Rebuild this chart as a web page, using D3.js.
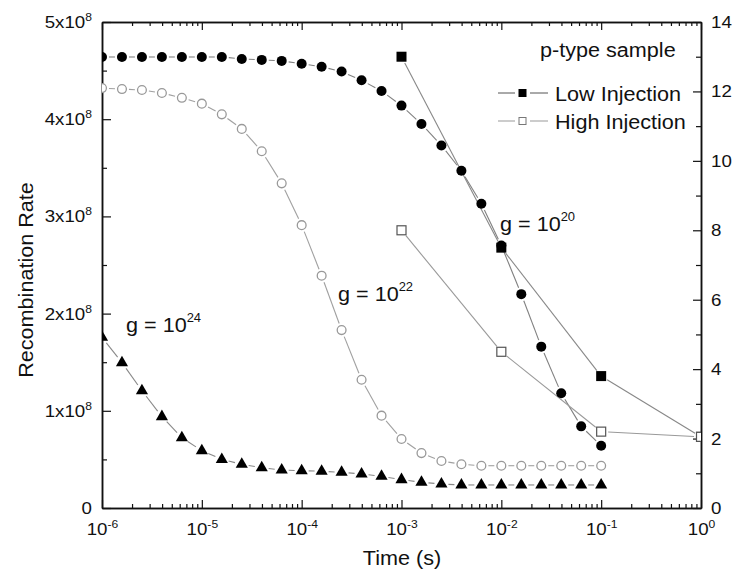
<!DOCTYPE html>
<html>
<head>
<meta charset="utf-8">
<script src="https://cdn.jsdelivr.net/npm/d3@7"></script>
<style>
  body { margin: 0; background: #fff; }
  svg text { font-family: "Liberation Sans", Arial, sans-serif; fill: #111; }
</style>
</head>
<body>
<svg width="732" height="578"></svg>
<script>
// time points (log10 of seconds) shared by the three g-series
const logTime = [-6, -5.8, -5.6, -5.4, -5.2, -5, -4.8, -4.6, -4.4, -4.2, -4, -3.8, -3.6,
                 -3.4, -3.2, -3, -2.8, -2.6, -2.4, -2.2, -2, -1.8, -1.6, -1.4, -1.2, -1];

// recombination rate, units of 1e8
const rateG20 = [4.64, 4.64, 4.64, 4.64, 4.64, 4.64, 4.64, 4.62, 4.61, 4.60, 4.57, 4.54, 4.49,
                 4.40, 4.29, 4.14, 3.95, 3.73, 3.47, 3.13, 2.70, 2.20, 1.66, 1.18, 0.84, 0.64];
const rateG22 = [4.32, 4.31, 4.30, 4.27, 4.22, 4.16, 4.05, 3.90, 3.67, 3.34, 2.91, 2.39, 1.83,
                 1.32, 0.95, 0.71, 0.565, 0.483, 0.45, 0.435, 0.435, 0.435, 0.435, 0.435, 0.435, 0.435];
const rateG24 = [1.756, 1.495, 1.207, 0.94, 0.723, 0.59, 0.50, 0.45, 0.415, 0.391, 0.384, 0.378, 0.367,
                 0.35, 0.326, 0.292, 0.264, 0.247, 0.237, 0.237, 0.237, 0.237, 0.237, 0.237, 0.237, 0.237];

// right axis series
const injTime = [1e-3, 1e-2, 1e-1, 1];
const lowInjection = [13.0, 7.5, 3.8, 2.05];
const highInjection = [8.0, 4.5, 2.2, 2.05];

const xTicks = [1e-6, 1e-5, 1e-4, 1e-3, 1e-2, 1e-1, 1];
const yTicks = [0, 1, 2, 3, 4, 5];
const y2Ticks = [0, 2, 4, 6, 8, 10, 12, 14];

const LEFT = 102, RIGHT = 701, TOP = 22, BOTTOM = 508;
const GAP = 7;

var svg = d3.select("svg");

var x = d3.scaleLog().domain([1e-6, 1]).range([LEFT, RIGHT]);
var y = d3.scaleLinear().domain([0, 5]).range([BOTTOM, TOP]);
var y2 = d3.scaleLinear().domain([0, 14]).range([BOTTOM, TOP]);

var minorX = [];
xTicks.slice(0, -1).forEach(function(d) {
  for (var k = 2; k < 10; k++) minorX.push(d * k);
});

svg.append("clipPath").attr("id", "plot")
  .append("rect").attr("x", LEFT).attr("y", TOP)
  .attr("width", RIGHT - LEFT).attr("height", BOTTOM - TOP);

// axes
function addSup(text, base, exp, dy) {
  text.text(null);
  text.append("tspan").text(base);
  text.append("tspan").attr("font-size", "11px").attr("dy", dy).text(exp);
}

var gx = svg.append("g").attr("transform", "translate(0," + BOTTOM + ")")
  .call(d3.axisBottom(x).tickValues(xTicks).tickSizeInner(-8).tickSizeOuter(0).tickPadding(15));
gx.selectAll(".tick text").each(function(d) {
  addSup(d3.select(this), "10", String(Math.round(Math.log10(d))), -7);
});
svg.append("g").attr("transform", "translate(0," + BOTTOM + ")")
  .call(d3.axisBottom(x).tickValues(minorX).tickSizeInner(-4).tickSizeOuter(0).tickFormat(""));

svg.append("g").attr("transform", "translate(0," + TOP + ")")
  .call(d3.axisTop(x).tickValues(xTicks).tickSizeInner(-8).tickSizeOuter(0).tickFormat(""));
svg.append("g").attr("transform", "translate(0," + TOP + ")")
  .call(d3.axisTop(x).tickValues(minorX).tickSizeInner(-4).tickSizeOuter(0).tickFormat(""));

var gy = svg.append("g").attr("transform", "translate(" + LEFT + ",0)")
  .call(d3.axisLeft(y).tickValues(yTicks).tickSizeInner(-9).tickSizeOuter(0).tickPadding(10)
    .tickFormat(function(d) { return d === 0 ? "0" : d + "x10"; }));
gy.selectAll(".tick text").each(function(d) {
  if (d > 0) addSup(d3.select(this), d + "x10", "8", -7);
});
svg.append("g").attr("transform", "translate(" + LEFT + ",0)")
  .call(d3.axisLeft(y).tickValues([0.5, 1.5, 2.5, 3.5, 4.5]).tickSizeInner(-5).tickSizeOuter(0).tickFormat(""));

svg.append("g").attr("transform", "translate(" + RIGHT + ",0)")
  .call(d3.axisRight(y2).tickValues(y2Ticks).tickSizeInner(-8).tickSizeOuter(0).tickPadding(10));
svg.append("g").attr("transform", "translate(" + RIGHT + ",0)")
  .call(d3.axisRight(y2).tickValues([1, 3, 5, 7, 9, 11, 13]).tickSizeInner(-5).tickSizeOuter(0).tickFormat(""));

svg.selectAll(".domain").attr("stroke", "#111").attr("stroke-width", 1.5);
svg.selectAll(".tick line").attr("stroke", "#111").attr("stroke-width", 1.2);
svg.selectAll(".tick text").attr("font-size", "17px").attr("fill", "#111")
  .attr("font-family", "'Liberation Sans', Arial, sans-serif");

// lines with a gap at each symbol
function segments(pts, gap) {
  return d3.pairs(pts).map(function(p) {
    var a = p[0], b = p[1];
    var dx = b[0] - a[0], dy = b[1] - a[1], len = Math.hypot(dx, dy);
    if (len <= 2 * gap) return null;
    var ux = dx / len, uy = dy / len;
    return [a[0] + ux * gap, a[1] + uy * gap, b[0] - ux * gap, b[1] - uy * gap];
  }).filter(Boolean);
}

var plot = svg.append("g").attr("clip-path", "url(#plot)");

function drawLine(pts, color, gap) {
  plot.append("g").selectAll("line")
    .data(segments(pts, gap))
    .enter().append("line")
      .attr("x1", function(d) { return d[0]; })
      .attr("y1", function(d) { return d[1]; })
      .attr("x2", function(d) { return d[2]; })
      .attr("y2", function(d) { return d[3]; })
      .attr("stroke", color)
      .attr("stroke-width", 1.1);
}

var ptsG20 = logTime.map(function(e, i) { return [x(Math.pow(10, e)), y(rateG20[i])]; });
var ptsG22 = logTime.map(function(e, i) { return [x(Math.pow(10, e)), y(rateG22[i])]; });
var ptsG24 = logTime.map(function(e, i) { return [x(Math.pow(10, e)), y(rateG24[i])]; });
var ptsLow = injTime.map(function(t, i) { return [x(t), y2(lowInjection[i])]; });
var ptsHigh = injTime.map(function(t, i) { return [x(t), y2(highInjection[i])]; });

drawLine(ptsG20, "#808080", GAP);
drawLine(ptsG22, "#a0a0a0", GAP);
drawLine(ptsG24, "#888888", GAP);
drawLine(ptsLow, "#888888", GAP);
drawLine(ptsHigh, "#999999", GAP);

plot.append("g").selectAll("circle")
  .data(ptsG20)
  .enter().append("circle")
    .attr("cx", function(d) { return d[0]; })
    .attr("cy", function(d) { return d[1]; })
    .attr("r", 5)
    .attr("fill", "#000");

plot.append("g").selectAll("circle")
  .data(ptsG22)
  .enter().append("circle")
    .attr("cx", function(d) { return d[0]; })
    .attr("cy", function(d) { return d[1]; })
    .attr("r", 4.4)
    .attr("fill", "#fff")
    .attr("stroke", "#999")
    .attr("stroke-width", 1.3);

plot.append("g").selectAll("path")
  .data(ptsG24)
  .enter().append("path")
    .attr("d", d3.symbol(d3.symbolTriangle, 64))
    .attr("transform", function(d) { return "translate(" + d[0] + "," + d[1] + ")"; })
    .attr("fill", "#000");

plot.append("g").selectAll("rect")
  .data(ptsLow)
  .enter().append("rect")
    .attr("x", function(d) { return d[0] - 5; })
    .attr("y", function(d) { return d[1] - 5; })
    .attr("width", 10).attr("height", 10)
    .attr("fill", "#000");

plot.append("g").selectAll("rect")
  .data(ptsHigh)
  .enter().append("rect")
    .attr("x", function(d) { return d[0] - 4.5; })
    .attr("y", function(d) { return d[1] - 4.5; })
    .attr("width", 9).attr("height", 9)
    .attr("fill", "#fff")
    .attr("stroke", "#555")
    .attr("stroke-width", 1.2);

// legend
var legend = svg.append("g");
legend.append("text").attr("x", 540).attr("y", 57).attr("font-size", "20px").text("p-type sample");

[["Low Injection", 93, "#555", "#000", "#000"], ["High Injection", 121, "#999", "#fff", "#777"]]
  .forEach(function(r) {
    legend.append("line").attr("x1", 498).attr("x2", 515).attr("y1", r[1]).attr("y2", r[1]).attr("stroke", r[2]);
    legend.append("line").attr("x1", 530).attr("x2", 548).attr("y1", r[1]).attr("y2", r[1]).attr("stroke", r[2]);
    legend.append("rect").attr("x", 519).attr("y", r[1] - 3.5).attr("width", 7).attr("height", 7)
      .attr("fill", r[3]).attr("stroke", r[4]).attr("stroke-width", 1);
    legend.append("text").attr("x", 555).attr("y", r[1] + 8).attr("font-size", "20px").text(r[0]);
  });

// annotations
function gLabel(xp, yp, exp) {
  var t = svg.append("text").attr("x", xp).attr("y", yp).attr("font-size", "20px");
  t.append("tspan").text("g = 10");
  t.append("tspan").attr("font-size", "12px").attr("dy", -10).text(exp);
  return t;
}
gLabel(126, 332, "24");
gLabel(338, 301, "22");
gLabel(500, 231, "20");

// axis titles
svg.append("text").attr("transform", "translate(33,280) rotate(-90)")
  .attr("text-anchor", "middle").attr("font-size", "20px").text("Recombination Rate");
svg.append("text").attr("x", 402).attr("y", 565)
  .attr("text-anchor", "middle").attr("font-size", "20px").text("Time (s)");

// widen the glyphs a bit, the source lettering runs wide
function stretch(sel, k) {
  sel.each(function() {
    var w = this.getComputedTextLength();
    d3.select(this).attr("textLength", w * k).attr("lengthAdjust", "spacingAndGlyphs");
  });
}
stretch(svg.selectAll(".tick text"), 1.1);
stretch(svg.selectAll("text").filter(function() { return !this.closest(".tick"); }), 1.08);
</script>
</body>
</html>
